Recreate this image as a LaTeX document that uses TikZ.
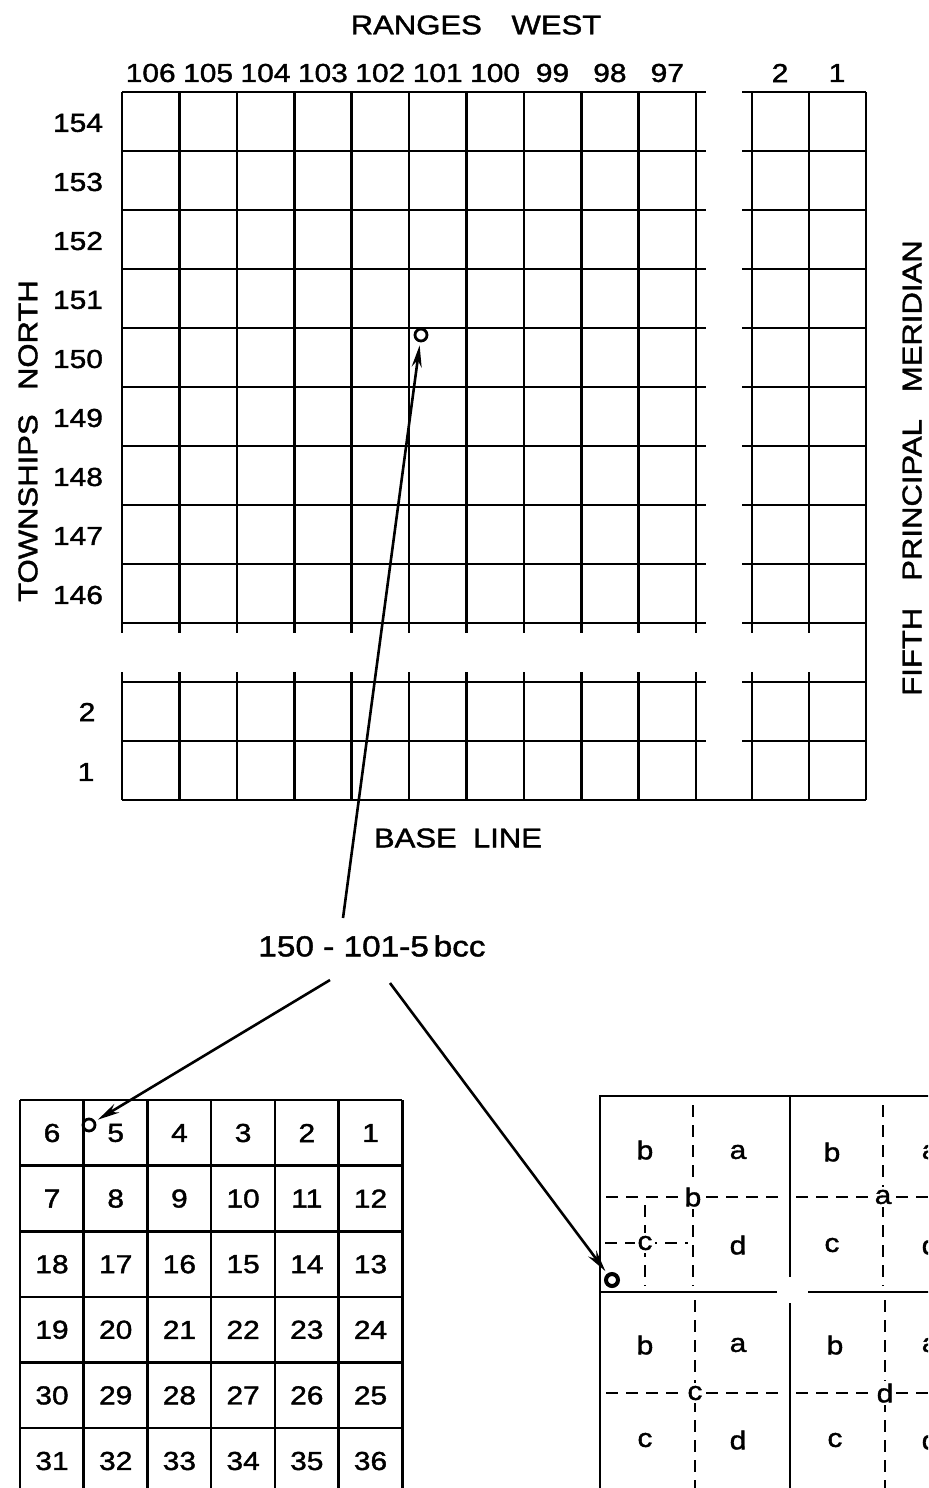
\documentclass[tikz,border=0pt]{standalone}
\usepackage{fontspec}
\setmainfont[FakeStretch=1.15, FakeBold=1.5]{Liberation Sans}
\usetikzlibrary{arrows.meta, calc, positioning}

\tikzset{
  gridline/.style={line width=1.3pt},
  subline/.style={line width=1.2pt, dash pattern=on 6pt off 4pt},
  lbl/.style={inner sep=0pt, font=\fontsize{13}{15}\selectfont},
  title/.style={inner sep=0pt, font=\fontsize{13.5}{16}\selectfont},
  cross/.style={fill=white, inner sep=1.2pt, font=\fontsize{13}{15}\selectfont},
  pointer/.style={-{Stealth[length=11pt,width=5pt]}, line width=1.3pt, shorten >=1.5pt},
  spot/.style={circle, draw, line width=1.4pt, inner sep=0pt, minimum size=6pt},
}

\begin{document}
\begin{tikzpicture}[x=0.5pt, y=-0.5pt]
  \useasboundingbox (0,0) rectangle (928,1488);
  \clip (0,0) rectangle (928,1488);

  % headings
  \node[title] (ranges) at (476,25) {RANGES\hspace{1.1em}WEST};
  \node[title, rotate=90] (twps) at (28,441) {TOWNSHIPS\hspace{0.9em}NORTH};
  \node[title, rotate=90] (merid) at (912,468) {FIFTH\hspace{1em}PRINCIPAL\hspace{1em}MERIDIAN};
  \node[title] (base) at (458,838) {BASE\hspace{0.6em}LINE};

  % township grid, upper block
  \foreach \i in {0,...,9} {
    \draw[gridline] (122,92+59*\i) -- (706,92+59*\i);
    \draw[gridline] (742,92+59*\i) -- (866,92+59*\i);
  }
  \foreach \i in {0,...,10}
    \draw[gridline] (122+57.4*\i,92) -- (122+57.4*\i,633);
  \foreach \x in {752,809}
    \draw[gridline] (\x,92) -- (\x,633);
  % lower block
  \foreach \y in {682,741} {
    \draw[gridline] (122,\y) -- (706,\y);
    \draw[gridline] (742,\y) -- (866,\y);
  }
  \foreach \i in {0,...,10}
    \draw[gridline] (122+57.4*\i,672) -- (122+57.4*\i,800);
  \foreach \x in {752,809}
    \draw[gridline] (\x,672) -- (\x,800);
  \draw[gridline] (122,800) -- (866,800);
  \draw[gridline] (866,92) -- (866,800);

  % range numbers
  \foreach \n [count=\i from 0] in {106,105,104,103,102,101,100,99,98,97}
    \node[lbl] (rng\n) at (150.7+57.4*\i,73) {\n};
  \node[lbl] (rng2) at (780,73) {2};
  \node[lbl] (rng1) at (837,73) {1};

  % township numbers
  \foreach \n [count=\i from 0] in {154,153,152,151,150,149,148,147,146}
    \node[lbl] (twp\n) at (78,123+59*\i) {\n};
  \node[lbl] (twp2) at (87,712) {2};
  \node[lbl] (twp1) at (86,772) {1};

  % located township
  \node[spot] (tspot) at (421,335) {};

  % well number
  \node[inner sep=0pt, font=\fontsize{14.5}{17}\selectfont] (code) at (372,946) {150 - 101-5\,bcc};
  \coordinate (up) at (343,918);
  \coordinate (left) at (330,980);
  \coordinate (right) at (390,983);

  % sections of the township
  \foreach \i in {0,...,6} {
    \draw[gridline] (20+63.7*\i,1100) -- (20+63.7*\i,1500);
    \draw[gridline] (20,1100+65.6*\i) -- (402,1100+65.6*\i);
  }
  \foreach \row [count=\r from 0] in {{6,5,4,3,2,1},{7,8,9,10,11,12},{18,17,16,15,14,13},{19,20,21,22,23,24},{30,29,28,27,26,25},{31,32,33,34,35,36}}
    \foreach \n [count=\c from 0] in \row
      \node[lbl] (sec\n) at (52+63.7*\c,1133+65.6*\r) {\n};
  \node[spot] (sspot) at (89,1125) {};

  % quarters of the section
  \draw[gridline] (990,1096) -- (600,1096) -- (600,1500);
  \draw[gridline] (790,1096) -- (790,1277);
  \draw[gridline] (790,1303) -- (790,1500);
  \draw[gridline] (600,1292) -- (777,1292);
  \draw[gridline] (808,1292) -- (990,1292);
  % quarter-quarters
  \draw[subline] (693,1105) -- (693,1286);
  \draw[subline] (883,1105) -- (883,1286);
  \draw[subline] (695,1300) -- (695,1490);
  \draw[subline] (885,1300) -- (885,1490);
  \draw[subline] (606,1197) -- (785,1197);
  \draw[subline] (796,1197) -- (990,1197);
  \draw[subline] (606,1393) -- (785,1393);
  \draw[subline] (796,1393) -- (990,1393);
  % quarter-quarter-quarters
  \draw[subline] (645,1205) -- (645,1286);
  \draw[subline] (605,1243) -- (688,1243);

  \node[cross] (qb) at (693,1197) {b};
  \node[cross] (qa) at (883,1197) {a};
  \node[cross] (qc) at (695,1393) {c};
  \node[cross] (qd) at (885,1393) {d};
  \node[cross] (qbc) at (645,1243) {c};

  \foreach \q/\x/\y in {b/645/1150, a/738/1152, d/738/1245,
                        b/832/1152, a/930/1152, c/832/1245, d/930/1245,
                        b/645/1345, a/738/1345, c/645/1440, d/738/1440,
                        b/835/1345, a/930/1345, c/835/1440, d/930/1440}
    \node[lbl] at (\x,\y) {\q};

  \node[spot, line width=2pt] (qspot) at (612,1280) {};

  % pointers
  \draw[pointer] (up) -- (tspot);
  \draw[pointer] (left) -- (sspot);
  \draw[pointer] (right) -- (qspot);
\end{tikzpicture}
\end{document}
